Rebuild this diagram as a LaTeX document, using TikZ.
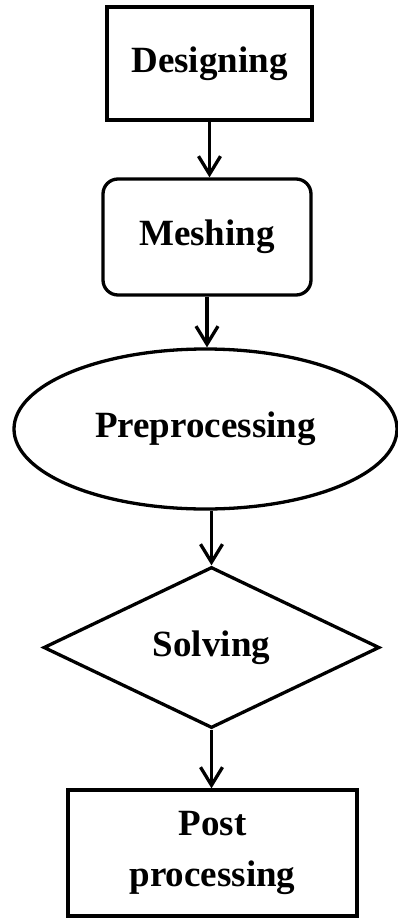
\documentclass[tikz,border=0pt]{standalone}
\usepackage{fontspec}
\setmainfont{Liberation Serif}
\usetikzlibrary{shapes.geometric,arrows.meta}
\tikzset{
  shp/.style={draw=black, line width=3.3pt, inner sep=0pt, align=center,
    font=\bfseries\fontsize{37}{51}\selectfont},
  boxnode/.style={shp, rectangle},
  roundnode/.style={shp, rectangle, rounded corners=15pt},
  ellnode/.style={shp, ellipse},
  diamnode/.style={shp, diamond, aspect=2.09},
  arr/.style={draw=black, line width=3.3pt,
    -{Straight Barb[length=18pt,width=22pt]}}
}
\begin{document}
\begin{tikzpicture}[x=1pt,y=-1pt]
\useasboundingbox (0,0) rectangle (398,918);
\node[boxnode, minimum width=205pt, minimum height=113pt] (des) at (209.5,63.5) {Designing};
\node[roundnode, minimum width=208pt, minimum height=116pt] (mes) at (207,237) {Meshing};
\node[ellnode, minimum width=383pt, minimum height=160pt] (pre) at (205.5,429) {Preprocessing};
\node[diamnode, minimum width=336pt, minimum height=161pt] (sol) at (211.5,647.5) {Solving};
\node[boxnode, minimum width=289pt, minimum height=126pt] (post) at (212.5,853) {Post\\processing};
\draw[arr] (des.south) -- (des.south |- mes.north);
\draw[arr] (mes.south) -- (mes.south |- pre.north);
\draw[arr] (pre.south -| sol.north) -- (sol.north);
\draw[arr] (sol.south) -- (sol.south |- post.north);
\end{tikzpicture}
\end{document}
